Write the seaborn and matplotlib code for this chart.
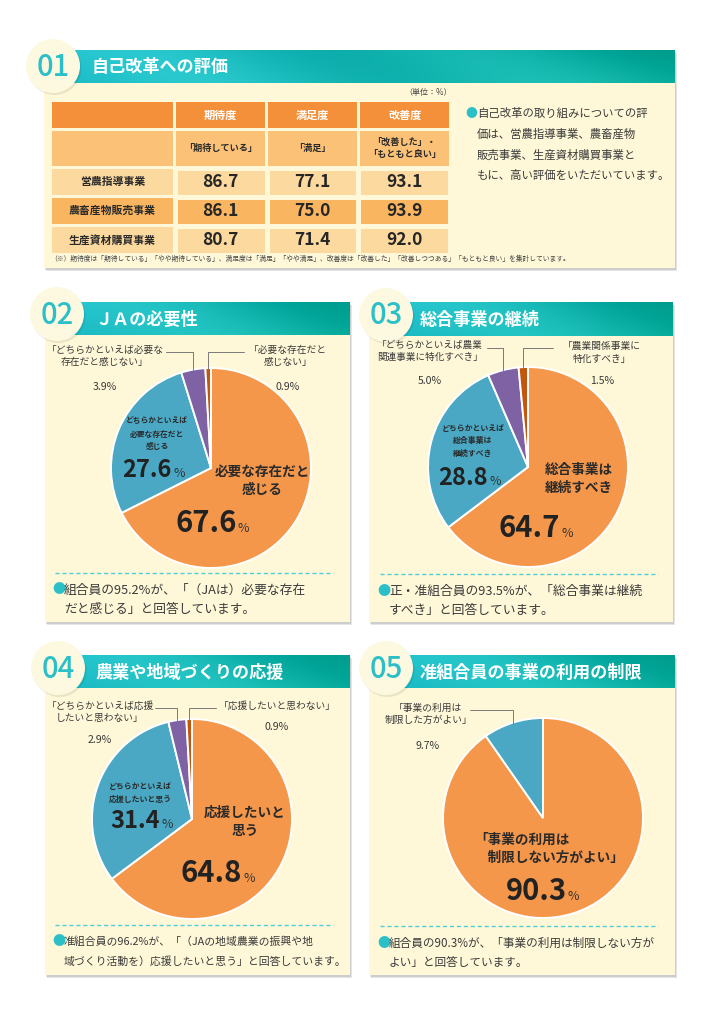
import numpy as np
import matplotlib
matplotlib.use('Agg')
import matplotlib.pyplot as plt
import seaborn as sns
from matplotlib.colors import ListedColormap, to_rgb
from matplotlib.patches import Rectangle, Circle

sns.set_theme(style='white')
plt.rcParams['font.family'] = ['Noto Sans CJK JP', 'DejaVu Sans']

# ---- data ----
table_cols = ['期待度', '満足度', '改善度']
table_subcols = ['「期待している」', '「満足」', '「改善した」・\n「もともと良い」']
table_rows = ['営農指導事業', '農畜産物販売事業', '生産資材購買事業']
table_vals = [[86.7, 77.1, 93.1],
              [86.1, 75.0, 93.9],
              [80.7, 71.4, 92.0]]

q2_vals = [67.6, 27.6, 3.9, 0.9]
q2_labels = ['必要な存在だと\n感じる', 'どちらかといえば\n必要な存在だと\n感じる',
             '「どちらかといえば必要な\n存在だと感じない」', '「必要な存在だと\n感じない」']
q3_vals = [64.7, 28.8, 5.0, 1.5]
q3_labels = ['総合事業は\n継続すべき', 'どちらかといえば\n総合事業は\n継続すべき',
             '「どちらかといえば農業\n関連事業に特化すべき」', '「農業関係事業に\n特化すべき」']
q4_vals = [64.8, 31.4, 2.9, 0.9]
q4_labels = ['応援したいと\n思う', 'どちらかといえば\n応援したいと思う',
             '「どちらかといえば応援\nしたいと思わない」', '「応援したいと思わない」']
q5_vals = [90.3, 9.7]
q5_labels = ['「事業の利用は\n　制限しない方がよい」', '「事業の利用は\n制限した方がよい」']

titles = ['自己改革への評価', 'ＪＡの必要性', '総合事業の継続',
          '農業や地域づくりの応援', '准組合員の事業の利用の制限']

# ---- style ----
W, H = 721, 1024
ORANGE = '#F5974A'
BLUE = '#4AA8C4'
PURPLE = '#7E62A4'
BROWN = '#C2560E'
CREAM = '#FEF8D8'
TEAL = '#2BBFC8'
TXT = '#3A3A3A'
pie_colors = [ORANGE, BLUE, PURPLE, BROWN]

fig = plt.figure(figsize=(W / 100, H / 100), dpi=100)
fig.patch.set_facecolor('white')
bg = fig.add_axes([0, 0, 1, 1])
fg = fig.add_axes([0, 0, 1, 1], zorder=10)
for a in (bg, fg):
    a.set_xlim(0, W)
    a.set_ylim(H, 0)
    a.axis('off')


def header(x0, x1, y0, y1):
    xx, yy = np.meshgrid(np.linspace(0, 1, 300), np.linspace(0, 1, 30))
    c0, c1 = np.array(to_rgb('#25C4CF')), np.array(to_rgb('#0EB2A2'))
    img = c0 * (1 - xx[..., None]) + c1 * xx[..., None]
    band = np.sin((xx * (x1 - x0) - yy * (y1 - y0) * 2.0) / 55.0)
    img = np.clip(img + 0.035 * band[..., None] - 0.05 * (1 - yy[..., None]) * xx[..., None], 0, 1)
    bg.imshow(img, extent=(x0, x1, y1, y0), aspect='auto', zorder=3,
              interpolation='bilinear')


def panel(x0, x1, y0, ym, y1, num, title, cx, cy, tx):
    bg.add_patch(Rectangle((x0 + 2, y0 + 3), x1 - x0, y1 - y0, fc='#000000',
                           alpha=0.10, ec='none', zorder=1))
    bg.add_patch(Rectangle((x0 + 1, y0 + 1.5), x1 - x0, y1 - y0, fc='#000000',
                           alpha=0.10, ec='none', zorder=1))
    bg.add_patch(Rectangle((x0, ym), x1 - x0, y1 - ym, fc=CREAM, ec='none', zorder=2))
    header(cx, x1, y0, ym)
    bg.add_patch(Circle((cx + 1.5, cy + 2), 27, fc='#000000', alpha=0.08, ec='none', zorder=4))
    bg.add_patch(Circle((cx, cy), 27, fc='#FDF9E0', ec='none', zorder=5))
    bg.text(cx, cy + 1, num, ha='center', va='center', fontsize=21, color=TEAL,
            weight='medium', zorder=6)
    bg.text(tx, (y0 + ym) / 2 + 1, title, ha='left', va='center', fontsize=12.3,
            color='white', weight='bold', zorder=6)


panel(44, 675, 50, 83, 268, '01', titles[0], 53, 66, 92)
panel(45, 350, 302, 335, 622, '02', titles[1], 57, 314, 95)
panel(369, 673, 302, 336, 622, '03', titles[2], 386, 315, 420)
panel(45, 350, 655, 688, 975, '04', titles[3], 58, 668, 95)
panel(369, 675, 655, 688, 975, '05', titles[4], 386, 668, 420)

# ---- table (panel 01) ----
col_x = [(52, 173), (176, 265), (268, 357), (360, 449)]
HEAD, SUB = '#F39039', '#FBC277'
LIGHT, DARK = '#FCD99E', '#F9B560'
row_y = [(169, 195), (198, 224), (227, 253)]
for i, (a, b) in enumerate(col_x):
    bg.add_patch(Rectangle((a, 102), b - a, 26, fc=HEAD, ec='none', zorder=3))
    bg.add_patch(Rectangle((a, 131), b - a, 35, fc=SUB, ec='none', zorder=3))
    if i > 0:
        fg.text((a + b) / 2, 115.5, table_cols[i - 1], ha='center', va='center',
                fontsize=8, weight='bold', color='white')
        fg.text((a + b) / 2, 148.5, table_subcols[i - 1], ha='center', va='center',
                fontsize=6.6, weight='bold', color='#2a2a2a', linespacing=1.5)
for j, (a, b) in enumerate(row_y):
    bg.add_patch(Rectangle((52, a), 121, b - a, fc=[LIGHT, DARK][j % 2], ec='none', zorder=3))
    fg.text(112.5, (a + b) / 2, table_rows[j], ha='center', va='center',
            fontsize=7.8, weight='bold', color='#2a2a2a')

ax_t = fig.add_axes([174.5 / W, 1 - 254.5 / H, 276 / W, 87 / H], zorder=5)
codes = np.array([[k % 2] * 3 for k in range(len(table_rows))])
sns.heatmap(codes, cmap=ListedColormap([LIGHT, DARK]), vmin=0, vmax=1,
            annot=np.array(table_vals), fmt='.1f', cbar=False, linewidths=2.2,
            linecolor=CREAM, xticklabels=False, yticklabels=False, ax=ax_t,
            annot_kws=dict(fontsize=12.5, weight='bold', color='#262626'))
ax_t.axis('off')

fg.text(428, 92, '（単位：%）', ha='center', va='center', fontsize=5.8, color='#444')
fg.text(50, 259, '（※）期待度は「期待している」「やや期待している」、満足度は「満足」「やや満足」、'
        '改善度は「改善した」「改善しつつある」「もともと良い」を集計しています。',
        ha='left', va='center', fontsize=4.9, color='#444')

right_lines = ['自己改革の取り組みについての評', '価は、営農指導事業、農畜産物',
               '販売事業、生産資材購買事業と', 'もに、高い評価をいただいています。']
fg.text(465, 113, '●', ha='left', va='center', fontsize=8.5, color=TEAL)
for k, ln in enumerate(right_lines):
    fg.text(477, 113 + 21 * k, ln, ha='left', va='center', fontsize=8.2, color=TXT)


# ---- pies ----
def draw_pie(cx, cy, r, vals):
    ax = fig.add_axes([(cx - r) / W, 1 - (cy + r) / H, 2 * r / W, 2 * r / H], zorder=5)
    ax.pie(vals, colors=pie_colors[:len(vals)], startangle=90, counterclock=False,
           wedgeprops=dict(edgecolor='white', linewidth=1.4))
    ax.set_xlim(-1, 1)
    ax.set_ylim(-1, 1)
    ax.axis('off')


def slice_pt(cx, cy, r, vals, i):
    tot = sum(vals)
    mid = (sum(vals[:i]) + vals[i] / 2) / tot
    ang = np.deg2rad(90 - mid * 360)
    return cx + r * np.cos(ang), cy - r * np.sin(ang)


def leader(x_from, y, cx, cy, r, vals, i):
    sx, sy = slice_pt(cx, cy, r, vals, i)
    fg.plot([x_from, sx, sx], [y, y, sy + 1], color='#7a7a7a', lw=0.7)


def big_pct(xr, yb, v, size):
    fg.text(xr, yb, f'{v:.1f}', ha='right', va='baseline', fontsize=size,
            weight='bold', color='#222')
    fg.text(xr + 1, yb, '%', ha='left', va='baseline', fontsize=9, color='#333')


def inner(x, y, label, fs, ls):
    fg.text(x, y, label, ha='center', va='center', fontsize=fs, weight='bold',
            color='#2a2a2a', linespacing=ls)


def outer(x, y, label, v, vy, fs=7.0):
    fg.text(x, y, label, ha='center', va='top', fontsize=fs, color=TXT, linespacing=1.3)
    fg.text(x, vy, f'{v:.1f}%', ha='center', va='center', fontsize=7.6, color=TXT)


def footer(x0, x1, y, lines, fs):
    bg.plot([x0 + 3, x1], [y, y], color='#52CED6', lw=1.0, ls=(0, (3, 2)), zorder=4)
    fg.text(x0, y + 17, '●', ha='left', va='center', fontsize=9.5, color=TEAL)
    for k, ln in enumerate(lines):
        fg.text(x0 + 12, y + 17 + 19.5 * k, ln, ha='left', va='center', fontsize=fs,
                color=TXT)


# panel 02
c2 = (211, 468, 100)
draw_pie(*c2, q2_vals)
inner(262, 481, q2_labels[0], 9.8, 1.35)
inner(157, 434, q2_labels[1], 5.6, 1.55)
big_pct(237, 532, q2_vals[0], 21)
big_pct(172, 477, q2_vals[1], 17)
outer(105, 345, q2_labels[2], q2_vals[2], 387)
outer(288, 345, q2_labels[3], q2_vals[3], 387)
leader(166, 352, *c2, q2_vals, 2)
leader(244, 352, *c2, q2_vals, 3)
footer(52, 333, 573, ['組合員の95.2%が、「（JAは）必要な存在', 'だと感じる」と回答しています。'], 9.2)

# panel 03
c3 = (528, 467, 100)
draw_pie(*c3, q3_vals)
inner(579, 479, q3_labels[0], 9.8, 1.35)
inner(473, 441, q3_labels[1], 5.7, 1.55)
big_pct(560, 537, q3_vals[0], 21)
big_pct(488, 485, q3_vals[1], 17)
outer(430, 341, q3_labels[2], q3_vals[2], 381, fs=6.9)
outer(602, 341, q3_labels[3], q3_vals[3], 381)
leader(487, 348, *c3, q3_vals, 2)
leader(553, 348, *c3, q3_vals, 3)
footer(377, 658, 574, ['正・准組合員の93.5%が、「総合事業は継続', 'すべき」と回答しています。'], 9.2)

# panel 04
c4 = (192, 819, 100)
draw_pie(*c4, q4_vals)
inner(245, 822, q4_labels[0], 9.8, 1.35)
inner(140, 793, q4_labels[1], 5.7, 1.55)
big_pct(242, 882, q4_vals[0], 21)
big_pct(160, 828, q4_vals[1], 17)
outer(100, 701, q4_labels[2], q4_vals[2], 740)
outer(277, 701, q4_labels[3], q4_vals[3], 727)
leader(155, 708, *c4, q4_vals, 2)
leader(216, 708, *c4, q4_vals, 3)
footer(52, 333, 925, ['准組合員の96.2%が、「（JAの地域農業の振興や地',
                      '域づくり活動を）応援したいと思う」と回答しています。'], 7.8)

# panel 05
c5 = (543, 818, 100)
draw_pie(*c5, q5_vals)
fg.text(474, 849, q5_labels[0], ha='left', va='center', fontsize=9.8, weight='bold',
        color='#2a2a2a', linespacing=1.35)
big_pct(567, 900, q5_vals[0], 21)
outer(428, 703, q5_labels[1], q5_vals[1], 746)
leader(470, 710, *c5, q5_vals, 1)
footer(377, 658, 926, ['組合員の90.3%が、「事業の利用は制限しない方が',
                       'よい」と回答しています。'], 8.4)

for a in (bg, fg):
    a.set_xlim(0, W)
    a.set_ylim(H, 0)

fig.savefig('out.png', dpi=100)
